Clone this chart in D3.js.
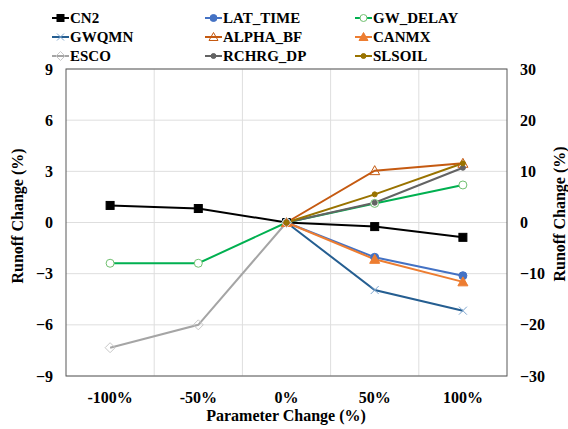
<!DOCTYPE html>
<html>
<head>
<meta charset="utf-8">
<script src="https://cdn.jsdelivr.net/npm/d3@7"></script>
<style>
  body { margin: 0; background: #fff; }
</style>
</head>
<body>
<div id="chart"></div>
<script>
const categories = ['-100%', '-50%', '0%', '50%', '100%'];
const leftTicks = [-9, -6, -3, 0, 3, 6, 9];
const rightTicks = [-30, -20, -10, 0, 10, 20, 30];

// values per category (null = not drawn)
const cn2 = [1.0, 0.82, 0, -0.24, -0.87];
const latTime = [null, null, 0, -2.04, -3.12];
const gwDelay = [-2.39, -2.39, 0, 1.12, 2.2];
const gwqmn = [null, null, 0, -3.96, -5.17];
const alphaBf = [null, null, 0, 3.04, 3.47];
const canmx = [null, null, 0, -2.16, -3.48];
const esco = [-7.34, -6.0, 0, null, null];
const rchrgDp = [null, null, 0, 1.16, 3.21];
const slsoil = [null, null, 0, 1.65, 3.47];

const series = [
  { name: 'CN2', values: cn2, color: '#000000', marker: 'square', mcolor: '#000000', fill: true },
  { name: 'LAT_TIME', values: latTime, color: '#4472C4', marker: 'circle', mcolor: '#4472C4', fill: true },
  { name: 'GW_DELAY', values: gwDelay, color: '#00B050', marker: 'circle', mcolor: '#70C070', fill: false },
  { name: 'GWQMN', values: gwqmn, color: '#255E91', marker: 'x', mcolor: '#7FA7D0', fill: false },
  { name: 'ALPHA_BF', values: alphaBf, color: '#C55A11', marker: 'triangle', mcolor: '#C55A11', fill: false },
  { name: 'CANMX', values: canmx, color: '#ED7D31', marker: 'triangle', mcolor: '#ED7D31', fill: true },
  { name: 'ESCO', values: esco, color: '#A5A5A5', marker: 'diamond', mcolor: '#C8C8C8', fill: false },
  { name: 'RCHRG_DP', values: rchrgDp, color: '#636363', marker: 'dot', mcolor: '#636363', fill: true },
  { name: 'SLSOIL', values: slsoil, color: '#997300', marker: 'dot', mcolor: '#997300', fill: true },
];

const FONT = "'Liberation Serif', 'Times New Roman', serif";
const W = 568, H = 429;
const margin = { top: 69, right: 61, bottom: 53, left: 66 };
const width = W - margin.left - margin.right;
const height = H - margin.top - margin.bottom;

const svg = d3.select('#chart').append('svg')
  .attr('width', W).attr('height', H);
const g = svg.append('g').attr('transform', `translate(${margin.left},${margin.top})`);

const x = d3.scaleBand().domain(categories).range([0, width]);
const y = d3.scaleLinear().domain([-9, 9]).range([height, 0]);
const y2 = d3.scaleLinear().domain([-30, 30]).range([height, 0]);

// Gridlines
g.selectAll('.hgrid').data(leftTicks).enter().append('line')
  .attr('x1', 0).attr('x2', width)
  .attr('y1', d => y(d)).attr('y2', d => y(d))
  .attr('stroke', '#dedede').attr('stroke-width', 1);
g.selectAll('.vgrid').data(categories.slice(1)).enter().append('line')
  .attr('x1', d => x(d)).attr('x2', d => x(d))
  .attr('y1', 0).attr('y2', height)
  .attr('stroke', '#dedede').attr('stroke-width', 1);

// Plot border
g.append('rect').attr('width', width).attr('height', height)
  .attr('fill', 'none').attr('stroke', '#595959').attr('stroke-width', 1);

// Axes
const leftAxis = g.append('g').call(d3.axisLeft(y).tickValues(leftTicks).tickSize(0).tickPadding(13));
leftAxis.select('.domain').remove();
const rightAxis = g.append('g').attr('transform', `translate(${width},0)`)
  .call(d3.axisRight(y2).tickValues(rightTicks).tickSize(0).tickPadding(13));
rightAxis.select('.domain').remove();
const bottomAxis = g.append('g').attr('transform', `translate(0,${height})`)
  .call(d3.axisBottom(x).tickSize(0).tickPadding(16));
bottomAxis.select('.domain').remove();
svg.selectAll('.tick text').style('font-size', '16px');

// Axis titles
svg.append('text').attr('transform', `translate(23,216) rotate(-90)`)
  .attr('text-anchor', 'middle').style('font-size', '16px').text('Runoff Change (%)');
svg.append('text').attr('transform', `translate(565,214) rotate(-90)`)
  .attr('text-anchor', 'middle').style('font-size', '16px').text('Runoff Change (%)');
svg.append('text').attr('x', 286).attr('y', 421)
  .attr('text-anchor', 'middle').style('font-size', '16px').text('Parameter Change (%)');

function drawMarker(sel, s, size) {
  const fill = s.fill ? s.mcolor : '#fff';
  if (s.marker === 'square') {
    sel.append('rect').attr('x', -size / 2).attr('y', -size / 2).attr('width', size).attr('height', size)
      .attr('fill', fill).attr('stroke', s.mcolor);
  } else if (s.marker === 'circle') {
    sel.append('circle').attr('r', size / 2).attr('fill', fill).attr('stroke', s.mcolor);
  } else if (s.marker === 'dot') {
    sel.append('circle').attr('r', 2.5).attr('fill', fill).attr('stroke', s.mcolor);
  } else if (s.marker === 'triangle') {
    const r = size / 2;
    sel.append('path').attr('d', `M0,${-r - 1}L${r + 1},${r}L${-r - 1},${r}Z`)
      .attr('fill', s.fill ? fill : 'none').attr('stroke', s.mcolor);
  } else if (s.marker === 'diamond') {
    const r = size / 2 + 1;
    sel.append('path').attr('d', `M0,${-r}L${r},0L0,${r}L${-r},0Z`)
      .attr('fill', 'none').attr('stroke', s.mcolor);
  } else if (s.marker === 'x') {
    const r = size / 2;
    sel.append('path').attr('d', `M${-r},${-r}L${r},${r}M${-r},${r}L${r},${-r}`)
      .attr('stroke', s.mcolor).attr('stroke-width', 1);
  }
}

const line = d3.line()
  .defined(d => d.v !== null)
  .x(d => x(d.c) + x.bandwidth() / 2)
  .y(d => y(d.v));

series.forEach(s => {
  const pts = categories.map((c, i) => ({ c, v: s.values[i] }));
  g.append('path').datum(pts).attr('d', line)
    .attr('fill', 'none').attr('stroke', s.color).attr('stroke-width', 2);
});
series.forEach(s => {
  const pts = categories.map((c, i) => ({ c, v: s.values[i] })).filter(d => d.v !== null);
  g.selectAll(null).data(pts).enter().append('g')
    .attr('transform', d => `translate(${x(d.c) + x.bandwidth() / 2},${y(d.v)})`)
    .each(function () { drawMarker(d3.select(this), s, 8); });
});

// Legend
const legCols = [52, 205, 355];
const legRows = [18, 37, 56];
series.forEach((s, i) => {
  const lg = svg.append('g').attr('transform', `translate(${legCols[i % 3]},${legRows[Math.floor(i / 3)]})`);
  lg.append('line').attr('x1', 0).attr('x2', 17).attr('stroke', s.color).attr('stroke-width', 2);
  const m = lg.append('g').attr('transform', 'translate(8.5,0)');
  drawMarker(m, s, 7);
  lg.append('text').attr('x', 18).attr('dy', '0.35em').style('font-size', '15px').text(s.name);
});

// all text: bold serif, black
svg.selectAll('text')
  .style('font-family', FONT)
  .style('font-weight', 'bold')
  .attr('fill', '#000');
g.selectAll('g').attr('font-family', null);
</script>
</body>
</html>
